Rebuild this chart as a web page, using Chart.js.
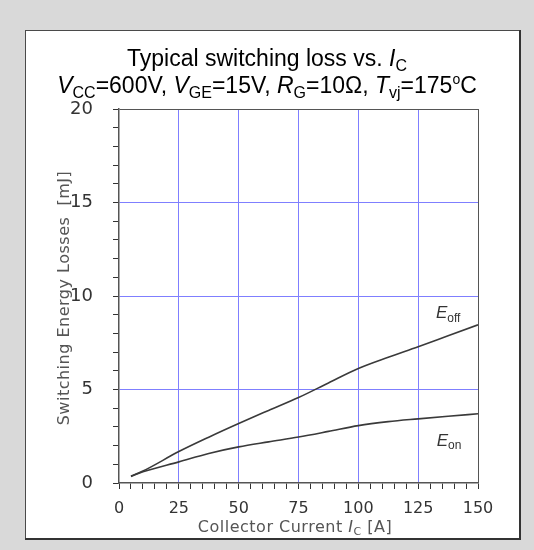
<!DOCTYPE html>
<html>
<head>
<meta charset="utf-8">
<script src="https://cdn.jsdelivr.net/npm/chart.js@4"></script>
<style>
  html, body { margin: 0; padding: 0; background: #d9d9d9; }
  canvas { display: block; }
</style>
</head>
<body>
<canvas id="lossChart" width="534" height="550"></canvas>
<script>
// Collector current [A]
const currents = [5, 10, 25, 37.5, 50, 62.5, 75, 87.5, 100, 112.5, 125, 137.5, 150];
// Turn-off / turn-on energy [mJ]
const eOff = [0.37, 0.64, 1.68, 2.45, 3.18, 3.88, 4.57, 5.35, 6.12, 6.72, 7.28, 7.87, 8.46];
const eOn = [0.35, 0.6, 1.13, 1.58, 1.93, 2.2, 2.46, 2.76, 3.07, 3.28, 3.43, 3.57, 3.7];

const yTicks = [0, 5, 10, 15, 20];
const xTicks = [0, 25, 50, 75, 100, 125, 150];

const GRID = '#7f7fff';
const FRAME = '#555';

const toPoints = ys => currents.map((x, i) => ({ x: x, y: ys[i] }));

// draws a run of text pieces, some italic, some sub/superscript
function richText(ctx, parts, cx, baseline, size, family, color, spacing) {
  const fontOf = p => {
    const s = (p.sub || p.sup) ? Math.round(size * (p.scale || 0.68)) : size;
    return (p.italic ? 'italic ' : '') + s + 'px ' + family;
  };
  ctx.save();
  ctx.letterSpacing = (spacing || 0) + 'px';
  let total = 0;
  parts.forEach(p => { ctx.font = fontOf(p); p.w = ctx.measureText(p.t).width; total += p.w; });
  ctx.fillStyle = color;
  ctx.textBaseline = 'alphabetic';
  ctx.textAlign = 'left';
  let x = cx - total / 2;
  parts.forEach(p => {
    ctx.font = fontOf(p);
    let dy = 0;
    if (p.sub) dy = size * 0.2;
    if (p.sup) dy = -size * 0.38;
    ctx.fillText(p.t, x, baseline + dy);
    x += p.w;
  });
  ctx.restore();
}

const decorations = {
  id: 'decorations',
  beforeDraw(chart) {
    const c = chart.ctx;
    c.save();
    c.fillStyle = '#d9d9d9';
    c.fillRect(0, 0, chart.width, chart.height);
    c.fillStyle = '#ffffff';
    c.fillRect(25, 30, 495, 509);
    c.fillStyle = '#4a4a4a';
    c.fillRect(25, 30, 495, 1);
    c.fillRect(25, 30, 1, 509);
    c.fillStyle = '#333';
    c.fillRect(519, 30, 2, 510);
    c.fillRect(25, 538, 496, 2);
    c.restore();
  },
  afterDraw(chart) {
    const c = chart.ctx;
    const sx = chart.scales.x, sy = chart.scales.y;
    const sans = '"Liberation Sans", Arial, sans-serif';
    const dv = '"DejaVu Sans", Verdana, sans-serif';

    richText(c, [
      { t: 'Typical switching loss vs. ' },
      { t: 'I', italic: true },
      { t: 'C', sub: true }
    ], 267, 66, 23, sans, '#000');

    richText(c, [
      { t: 'V', italic: true }, { t: 'CC', sub: true }, { t: '=600V, ' },
      { t: 'V', italic: true }, { t: 'GE', sub: true }, { t: '=15V, ' },
      { t: 'R', italic: true }, { t: 'G', sub: true }, { t: '=10Ω, ' },
      { t: 'T', italic: true }, { t: 'vj', sub: true }, { t: '=175' },
      { t: 'o', sup: true, scale: 0.6 }, { t: 'C' }
    ], 267, 93, 23, sans, '#000');

    // x axis title
    richText(c, [
      { t: 'Collector Current ' },
      { t: 'I', italic: true },
      { t: 'C', sub: true, scale: 0.7 },
      { t: ' [A]' }
    ], 295, 532, 16, dv, '#555', 0.5);

    // y axis title
    c.save();
    c.translate(69, 298);
    c.rotate(-Math.PI / 2);
    richText(c, [{ t: 'Switching Energy Losses  [mJ]' }], 0, 0, 16, dv, '#555', 0.5);
    c.restore();

    // curve names
    const lx = sx.getPixelForValue(132.5);
    richText(c, [{ t: 'E', italic: true }, { t: 'off', sub: true, scale: 0.7 }],
      lx + 12, sy.getPixelForValue(8.8), 17, sans, '#333');
    richText(c, [{ t: 'E', italic: true }, { t: 'on', sub: true, scale: 0.7 }],
      lx + 13, sy.getPixelForValue(2.0), 17, sans, '#333');
  }
};

const ctx = document.getElementById('lossChart').getContext('2d');
new Chart(ctx, {
  type: 'line',
  data: {
    datasets: [
      { label: 'Eoff', data: toPoints(eOff) },
      { label: 'Eon', data: toPoints(eOn) }
    ]
  },
  options: {
    responsive: false,
    animation: false,
    layout: { padding: { left: 25, top: 109, right: 56, bottom: 11 } },
    elements: {
      line: { borderColor: '#3a3a3a', borderWidth: 1.6, tension: 0.35, cubicInterpolationMode: 'monotone', fill: false },
      point: { radius: 0 }
    },
    plugins: {
      legend: { display: false },
      tooltip: { enabled: false }
    },
    scales: {
      x: {
        type: 'linear',
        min: xTicks[0],
        max: xTicks[xTicks.length - 1],
        afterFit: s => { s.height = 56; },
        border: { display: true, color: FRAME, width: 1.5 },
        grid: {
          color: c => c.tick.value === 150 ? FRAME : (c.tick.value % 25 === 0 && c.tick.value !== 0 ? GRID : 'rgba(0,0,0,0)'),
          tickColor: '#333',
          tickLength: 6
        },
        ticks: {
          stepSize: 5,
          autoSkip: false,
          maxRotation: 0,
          padding: 10,
          color: '#333',
          font: { family: '"DejaVu Sans", Verdana, sans-serif', size: 16 },
          callback: v => xTicks.includes(v) ? v : ''
        }
      },
      y: {
        min: yTicks[0],
        max: yTicks[yTicks.length - 1],
        afterFit: s => { s.width = 94; },
        border: { display: true, color: FRAME, width: 1.5 },
        grid: {
          color: c => c.tick.value === 20 ? FRAME : (c.tick.value % 5 === 0 && c.tick.value !== 0 ? GRID : 'rgba(0,0,0,0)'),
          tickColor: '#333',
          tickLength: 6
        },
        ticks: {
          stepSize: 1,
          autoSkip: false,
          padding: 20,
          color: '#333',
          font: { family: '"DejaVu Sans", Verdana, sans-serif', size: 18 },
          callback: v => yTicks.includes(v) ? v : ''
        }
      }
    }
  },
  plugins: [decorations]
});
</script>
</body>
</html>
